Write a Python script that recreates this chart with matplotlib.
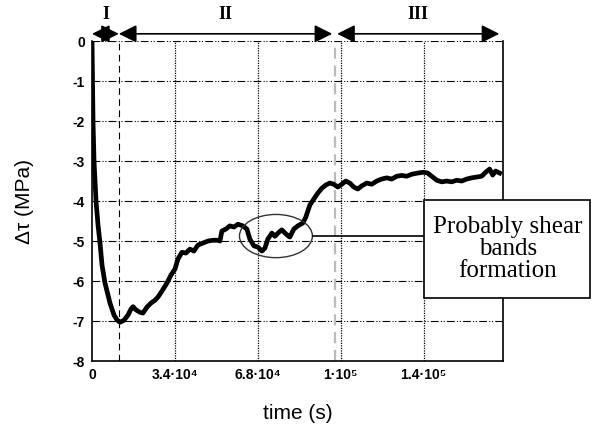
import numpy as np
import matplotlib
matplotlib.use("Agg")
import matplotlib.pyplot as plt
from matplotlib.patches import Ellipse, Rectangle

time_s = [0, 200, 410, 820, 1640, 2460, 3280, 4100, 5320, 7370, 9010, 10240,
          11470, 13100, 14750, 15970, 16800, 18020, 19660, 20890, 22530, 24170,
          25800, 27030, 28670, 30720, 32360, 34000, 35230, 36860, 38500, 40140,
          41780, 43420, 45460, 47510, 49560, 51610, 52430, 53250, 54890, 56530,
          58170, 59800, 61850, 63490, 64720, 66360, 68000, 69630, 70860, 72090,
          73730, 74960, 76600, 77820, 79460, 81100, 82740, 84380, 86430, 87660,
          89300, 90930, 92570, 94210, 95850, 97490, 99120, 100760, 102400,
          104030, 105670, 107310, 108950, 110590, 112640, 114690, 116740,
          118780, 120830, 122880, 124930, 126980, 129020, 131070, 133530,
          135990, 137630, 139680, 141320, 143360, 145410, 147460, 149510,
          151560, 153600, 155650, 157700, 159740, 161380, 163020, 164250,
          165480, 167120]
dtau = [0, -1.0, -2.0, -3.0, -4.0, -4.6, -5.05, -5.6, -6.05, -6.55, -6.85, -6.97,
        -7.03, -6.98, -6.85, -6.7, -6.64, -6.72, -6.78, -6.8, -6.65, -6.55,
        -6.48, -6.4, -6.25, -6.05, -5.85, -5.7, -5.45, -5.28, -5.3, -5.2,
        -5.25, -5.1, -5.05, -5.0, -4.98, -4.98, -5.0, -4.75, -4.7, -4.62,
        -4.65, -4.58, -4.62, -4.7, -4.95, -5.12, -5.15, -5.25, -5.18, -4.95,
        -4.8, -4.88, -4.78, -4.72, -4.82, -4.9, -4.7, -4.62, -4.55, -4.4,
        -4.1, -3.95, -3.8, -3.68, -3.6, -3.55, -3.58, -3.65, -3.58,
        -3.5, -3.55, -3.65, -3.7, -3.62, -3.55, -3.58, -3.5,
        -3.45, -3.42, -3.45, -3.38, -3.36, -3.38, -3.33, -3.3,
        -3.28, -3.3, -3.4, -3.48, -3.52, -3.5, -3.52, -3.48,
        -3.5, -3.45, -3.42, -3.4, -3.38, -3.28, -3.2, -3.35,
        -3.25, -3.3]

tick_pos = [0, 34000, 68000, 102000, 136000]
tick_labels = ["0", "3.4·10⁴", "6.8·10⁴", "1·10⁵", "1.4·10⁵"]
y_ticks = [0, -1, -2, -3, -4, -5, -6, -7, -8]

region_spans = [(0, 11000), (11000, 98500), (100500, 167000)]
region_names = ["I", "II", "III"]

sans = ["Liberation Sans", "DejaVu Sans"]
serif = ["Liberation Serif", "DejaVu Serif"]

fig = plt.figure(figsize=(5.91, 4.34), dpi=100)
ax = fig.add_axes([0.1557, 0.168, 0.695, 0.7375])

ax.set_xlim(0, 168400)
ax.set_ylim(-8, 0)

# grid
for yv in y_ticks[:-1]:
    ax.axhline(yv, color="black", lw=0.8, ls=(0, (7, 2, 1, 1.5, 1, 2)), zorder=1)
for xv in tick_pos[1:]:
    ax.axvline(xv, color="black", lw=0.9, ls=(0, (1, 1)), zorder=1)
ax.axvline(11000, color="black", lw=0.8, ls=(0, (6, 4)), zorder=1)
ax.axvline(99800, color="#bbbbbb", lw=1.6, ls=(0, (5, 3)), zorder=1)

ax.plot(time_s, dtau, color="black", lw=3.4, solid_joinstyle="round", zorder=3)

ell = Ellipse((75400, -4.875), 29900, 1.08, fill=False, color="#333333", lw=1.0, zorder=4)
ax.add_patch(ell)
ax.plot([90800, 136500], [-4.88, -4.88], color="black", lw=1.2, zorder=4)

# annotation box (figure coords)
fig.patches.append(Rectangle((424 / 591, 1 - 298 / 434), 166 / 591, 98 / 434,
                             transform=fig.transFigure, fc="white", ec="black",
                             lw=1.2, zorder=5))
fig.text(508 / 591, 1 - 249 / 434, "Probably shear\nbands\nformation",
         ha="center", va="center", fontsize=18, family=serif, linespacing=1.02,
         zorder=6)

for sp in ["left", "bottom", "right"]:
    ax.spines[sp].set_linewidth(1.2)
ax.spines["top"].set_visible(False)

ax.set_xticks(tick_pos)
ax.set_xticklabels(tick_labels, family=sans, fontsize=10, fontweight="bold")
ax.set_yticks(y_ticks)
ax.set_yticklabels([str(v) if v == 0 else "-%d" % -v for v in y_ticks],
                   family=sans, fontsize=10, fontweight="bold")
ax.tick_params(length=0, pad=5)

ax.set_ylabel("Δτ (MPa)", family=sans, fontsize=15, labelpad=28)
ax.set_xlabel("time (s)", family=sans, fontsize=15, labelpad=16)

# region arrows above the plot
ya = 0.18
for (a, b), name in zip(region_spans, region_names):
    ax.annotate("", xy=(b, ya), xytext=(a, ya), annotation_clip=False,
                arrowprops=dict(arrowstyle="<|-|>,head_length=0.6,head_width=0.3",
                                color="black", lw=1.2, mutation_scale=18,
                                shrinkA=0, shrinkB=0))
    ax.text((a + b) / 2, 0.45, name, ha="center", va="bottom", family=serif,
            fontsize=13, fontweight="bold", clip_on=False)

fig.savefig("out.png", dpi=100)
